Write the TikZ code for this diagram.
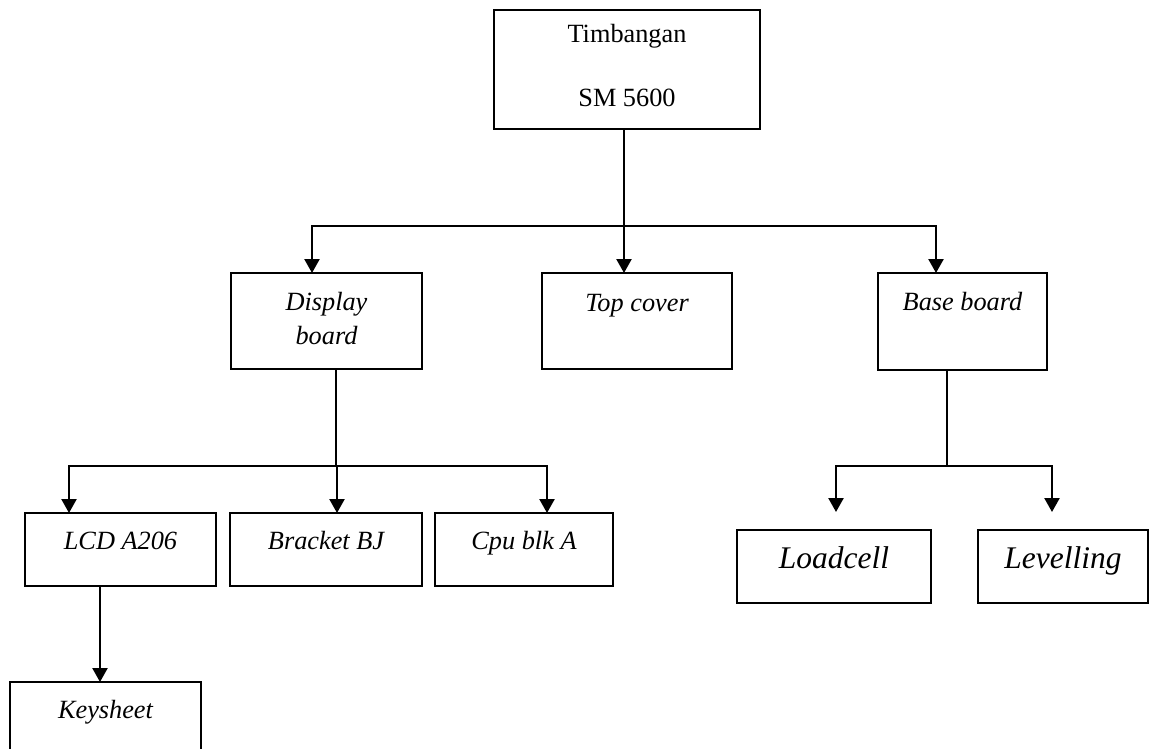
\documentclass[tikz,border=0pt]{standalone}
\usepackage{fontspec}
\setmainfont{Liberation Serif}
\usetikzlibrary{arrows.meta}
\begin{document}
\begin{tikzpicture}[x=1pt,y=-1pt,
  box/.style={draw, line width=1.8pt, rectangle, inner sep=0pt, outer sep=0pt},
  lbl/.style={inner sep=0pt, anchor=base, font=\fontsize{26.3}{30}\selectfont},
  ilbl/.style={inner sep=0pt, anchor=base, font=\itshape\fontsize{26.3}{30}\selectfont},
  blbl/.style={inner sep=0pt, anchor=base, font=\itshape\fontsize{31.5}{36}\selectfont},
  conn/.style={line width=2.4pt},
  arr/.style={conn, -{Triangle[length=14pt,width=15pt]}}]
\useasboundingbox (0,0) rectangle (1149,748);

% boxes
\node[box, minimum width=266pt, minimum height=119pt] (top)  at (627,69.5) {};
\node[box, minimum width=191pt, minimum height=96pt]  (disp) at (326.5,321) {};
\node[box, minimum width=190pt, minimum height=96pt]  (topc) at (637,321) {};
\node[box, minimum width=169pt, minimum height=97pt]  (base) at (962.5,321.5) {};
\node[box, minimum width=191pt, minimum height=73pt]  (lcd)  at (120.5,549.5) {};
\node[box, minimum width=192pt, minimum height=73pt]  (brk)  at (326,549.5) {};
\node[box, minimum width=178pt, minimum height=73pt]  (cpu)  at (524,549.5) {};
\node[box, minimum width=194pt, minimum height=73pt]  (load) at (834,566.5) {};
\node[box, minimum width=170pt, minimum height=73pt]  (lev)  at (1063,566.5) {};
\node[box, minimum width=191pt, minimum height=88pt]  (key)  at (105.5,726) {};

% labels
\node[lbl]  (topt1) at (627,42)  {Timbangan};
\node[lbl]  (topt2) at (627,106) {SM 5600};
\node[ilbl] (dispt1) at (326.5,310) {Display};
\node[ilbl] (dispt2) at (326.5,344) {board};
\node[ilbl] (topct) at (637,311) {Top cover};
\node[ilbl] (baset) at (962.5,310) {Base board};
\node[ilbl] (lcdt) at (120.5,549) {LCD A206};
\node[ilbl] (brkt) at (326,549) {Bracket BJ};
\node[ilbl] (cput) at (524,549) {Cpu blk A};
\node[blbl] (loadt) at (834,568) {Loadcell};
\node[blbl] (levt) at (1063,568) {Levelling};
\node[ilbl] (keyt) at (105.5,718) {Keysheet};

% connectors
\coordinate (j1) at (624,226);
\draw[conn] (top.south -| j1) -- (j1);
\draw[arr] (j1) -| ([xshift=-14.5pt]disp.north);
\draw[arr] (j1) -- (j1 |- topc.north);
\draw[arr] (j1) -| ([xshift=-26.5pt]base.north);

\coordinate (j2) at (336,466);
\draw[conn] (disp.south -| j2) -- (j2);
\draw[arr] (j2) -| ([xshift=-51.5pt]lcd.north);
\draw[arr] (j2) -| ([xshift=11pt]brk.north);
\draw[arr] (j2) -| ([xshift=23pt]cpu.north);

\coordinate (j3) at (947,466);
\draw[conn] (base.south -| j3) -- (j3);
\draw[arr] (j3) -| ([xshift=2pt,yshift=18pt]load.north);
\draw[arr] (j3) -| ([xshift=-11pt,yshift=18pt]lev.north);

\draw[arr] ([xshift=-20.5pt]lcd.south) -- ([xshift=-20.5pt]lcd.south |- key.north);
\end{tikzpicture}
\end{document}
